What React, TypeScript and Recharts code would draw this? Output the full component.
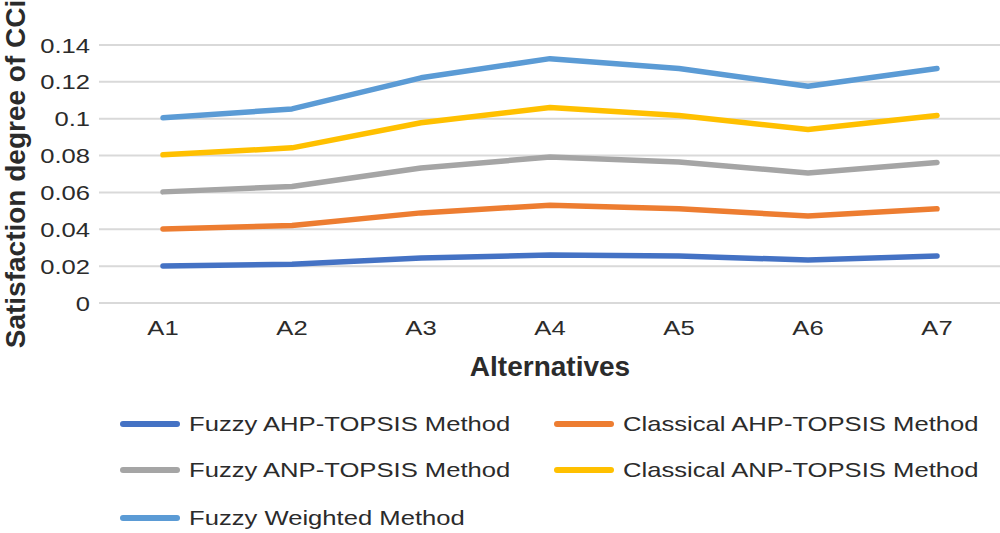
import { LineChart, Line, XAxis, YAxis, CartesianGrid } from "recharts";

const alternatives = ["A1", "A2", "A3", "A4", "A5", "A6", "A7"];
const fuzzyAhp = [0.0201, 0.021, 0.0244, 0.026, 0.0255, 0.0233, 0.0255];
const classicalAhp = [0.0402, 0.0421, 0.0489, 0.0531, 0.0511, 0.0472, 0.0511];
const fuzzyAnp = [0.0603, 0.0632, 0.0733, 0.0792, 0.0765, 0.0706, 0.0762];
const classicalAnp = [0.0804, 0.0842, 0.0978, 0.1061, 0.1017, 0.0941, 0.1017];
const fuzzyWeighted = [0.1005, 0.1053, 0.1222, 0.1326, 0.1272, 0.1176, 0.1272];
const yTicks = [0, 0.02, 0.04, 0.06, 0.08, 0.1, 0.12, 0.14];

const SERIES = [
  { key: "fuzzyAhp", name: "Fuzzy AHP-TOPSIS Method", color: "#4472C4", values: fuzzyAhp },
  { key: "classicalAhp", name: "Classical AHP-TOPSIS Method", color: "#ED7D31", values: classicalAhp },
  { key: "fuzzyAnp", name: "Fuzzy ANP-TOPSIS Method", color: "#A5A5A5", values: fuzzyAnp },
  { key: "classicalAnp", name: "Classical ANP-TOPSIS Method", color: "#FFC000", values: classicalAnp },
  { key: "fuzzyWeighted", name: "Fuzzy Weighted Method", color: "#5B9BD5", values: fuzzyWeighted },
];

const data = alternatives.map((name, i) => {
  const row: Record<string, number | string> = { name };
  SERIES.forEach(s => { row[s.key] = s.values[i]; });
  return row;
});

const FONT = "'Liberation Sans', Arial, sans-serif";
const TEXT = "#2b2b2b";
const STRETCH = 1.22; // the source text is a bit wider than Arial

const XTick = (props: any) => {
  const { x, y, payload } = props;
  return (
    <g transform={`translate(${x},${y}) scale(${STRETCH},1)`}>
      <text x={0} y={0} dy={32} textAnchor="middle" fill={TEXT} fontSize={21} fontFamily={FONT}>
        {payload.value}
      </text>
    </g>
  );
};

const YTick = (props: any) => {
  const { x, y, payload } = props;
  return (
    <g transform={`translate(${x},${y}) scale(${STRETCH},1)`}>
      <text x={0} y={0} dy={7.5} textAnchor="end" fill={TEXT} fontSize={21} fontFamily={FONT}>
        {payload.value}
      </text>
    </g>
  );
};

export default function App() {
  return (
    <div style={{ position: "absolute", left: 0, top: 0, width: 1000, height: 533, background: "#fff", fontFamily: FONT }}>
      <LineChart width={1000} height={533} data={data} margin={{ top: 45, right: 0, left: 0, bottom: 0 }}>
        <CartesianGrid vertical={false} stroke="#d9d9d9" strokeWidth={2} />
        <XAxis
          dataKey="name"
          height={230}
          padding={{ left: 64, right: 63 }}
          axisLine={false}
          tickLine={false}
          tickSize={0}
          tickMargin={0}
          tick={<XTick />}
          label={{
            content: () => (
              <text x={550} y={376} textAnchor="middle" fill={TEXT} fontSize={28} fontWeight="bold" fontFamily={FONT}>
                Alternatives
              </text>
            ),
          }}
        />
        <YAxis
          width={99}
          domain={[0, 0.14]}
          ticks={yTicks}
          axisLine={false}
          tickLine={false}
          tickSize={0}
          tickMargin={9}
          tick={<YTick />}
          label={{
            content: () => (
              <text x={25} y={174} transform="rotate(-90 25 174)" textAnchor="middle" fill={TEXT} fontSize={28} fontWeight="bold" fontFamily={FONT}>
                Satisfaction degree of CCi
              </text>
            ),
          }}
        />
        {SERIES.map(s => (
          <Line key={s.key} dataKey={s.key} name={s.name} stroke={s.color} strokeWidth={5.5} strokeLinecap="round" strokeLinejoin="round" dot={false} isAnimationActive={false} />
        ))}
      </LineChart>
      {SERIES.map((s, i) => (
        <div
          key={s.key}
          style={{
            position: "absolute",
            left: i % 2 === 0 ? 120 : 554,
            top: [424, 470, 518][Math.floor(i / 2)] - 14,
            height: 28,
            display: "flex",
            alignItems: "center",
            fontSize: 21,
            color: TEXT,
            whiteSpace: "nowrap",
          }}
        >
          <span style={{ display: "inline-block", width: 60, height: 6, borderRadius: 3, background: s.color, marginRight: 9 }} />
          <span style={{ display: "inline-block", transform: `scaleX(${STRETCH})`, transformOrigin: "left center" }}>{s.name}</span>
        </div>
      ))}
    </div>
  );
}
